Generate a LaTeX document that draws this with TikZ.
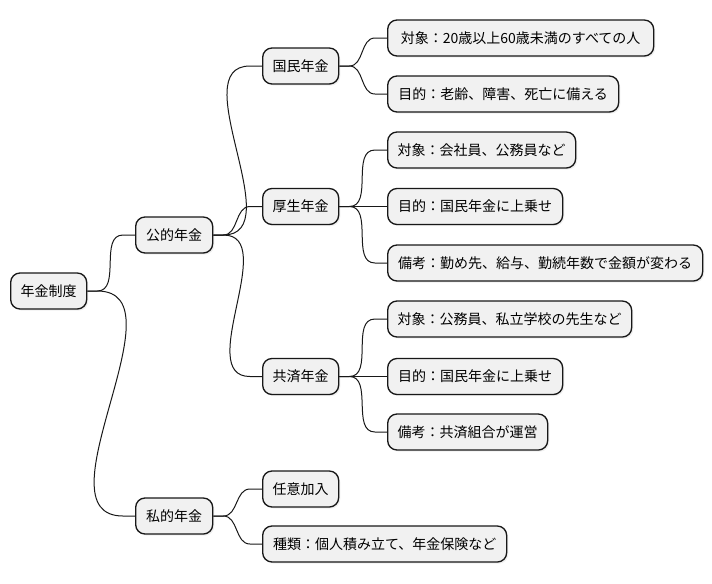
\documentclass[tikz,border=0pt]{standalone}
\usepackage{fontspec}
\newfontfamily\jpfont{Noto Sans CJK JP}
\usepackage{tikz}
\usetikzlibrary{shadows}
\definecolor{boxfill}{HTML}{F1F1F1}
\definecolor{boxline}{HTML}{181818}

\begin{document}
\begin{tikzpicture}[x=0.75pt, y=-0.75pt, font=\jpfont\fontsize{10.5}{12}\selectfont,
  topic/.style={draw=boxline, fill=boxfill, line width=1pt, rounded corners=7pt, anchor=west,
    minimum height=27pt, inner xsep=7.5pt, drop shadow={opacity=0.12, shadow xshift=1.2pt, shadow yshift=-1.2pt}},
  link/.style={draw=boxline, line width=0.75pt}]
  % page size of the reference
  \useasboundingbox (0,0) rectangle (712,583);

  % root and first level
  \node[topic, minimum width=57pt] (Root) at (10,291) {年金制度};
  \node[topic, minimum width=57.75pt] (Pub) at (135,235) {公的年金};
  \node[topic, minimum width=57.75pt] (Priv) at (135,516) {私的年金};

  % public pensions
  \node[topic, minimum width=57pt] (Kokumin) at (262,66) {国民年金};
  \node[topic, minimum width=57pt] (Kosei) at (262,206.5) {厚生年金};
  \node[topic, minimum width=57pt] (Kyosai) at (262,376.5) {共済年金};

  \node[topic, minimum width=199.5pt] (KoTarget) at (387,38) {対象：20歳以上60歳未満のすべての人};
  \node[topic, minimum width=173.25pt] (KoGoal) at (387,94) {目的：老齢、障害、死亡に備える};

  \node[topic, minimum width=141pt] (KsTarget) at (387,150) {対象：会社員、公務員など};
  \node[topic, minimum width=131.25pt] (KsGoal) at (387,206.5) {目的：国民年金に上乗せ};
  \node[topic, minimum width=236.25pt] (KsNote) at (387,263) {備考：勤め先、給与、勤続年数で金額が変わる};

  \node[topic, minimum width=182.25pt] (KyTarget) at (387,319) {対象：公務員、私立学校の先生など};
  \node[topic, minimum width=131.25pt] (KyGoal) at (387,376.5) {目的：国民年金に上乗せ};
  \node[topic, minimum width=120pt] (KyNote) at (387,432) {備考：共済組合が運営};

  % private pensions
  \node[topic, minimum width=57pt] (PrOpt) at (262,489) {任意加入};
  \node[topic, minimum width=183pt] (PrKind) at (262,544) {種類：個人積み立て、年金保険など};

  % branches
  \foreach \a/\b in {Root/Pub, Root/Priv, Pub/Kokumin, Pub/Kosei, Pub/Kyosai,
      Kokumin/KoTarget, Kokumin/KoGoal, Kosei/KsTarget, Kosei/KsNote,
      Kyosai/KyTarget, Kyosai/KyNote, Priv/PrOpt, Priv/PrKind}
    \draw[link] (\a.east) -- ++(10,0) to[out=0, in=180] ([xshift=-9pt]\b.west) -- (\b.west);
  \draw[link] (Kosei) -- (KsGoal);
  \draw[link] (Kyosai) -- (KyGoal);
\end{tikzpicture}
\end{document}
